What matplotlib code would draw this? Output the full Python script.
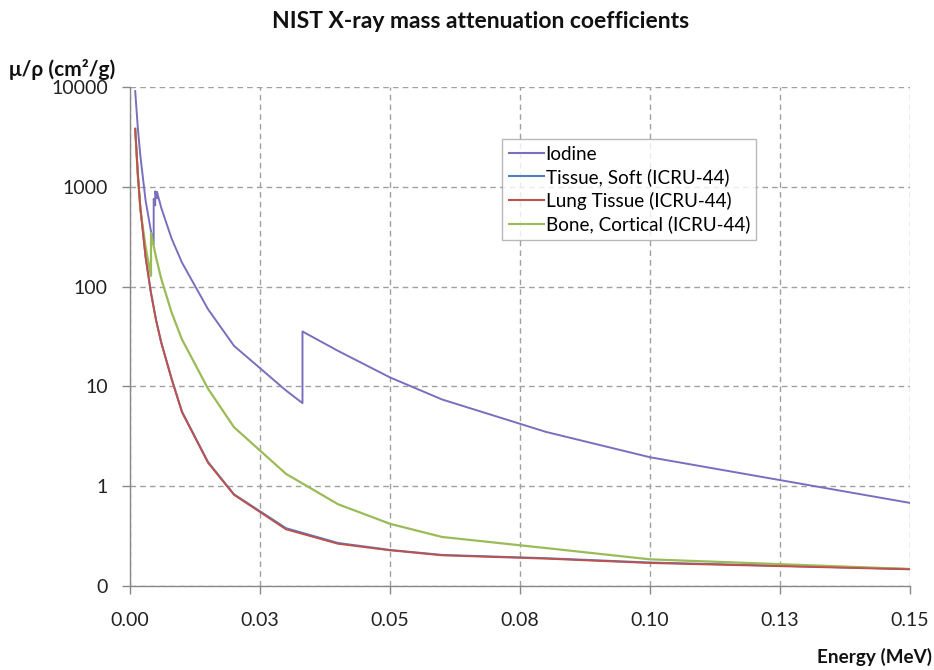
import matplotlib
matplotlib.use("Agg")
import matplotlib.pyplot as plt
from matplotlib.ticker import FixedLocator, FixedFormatter, NullLocator

plt.rcParams['font.family'] = ['Lato', 'DejaVu Sans']

# Energies (MeV) and mass attenuation coefficients (cm^2/g)
iodine_E = [0.001, 0.0015, 0.002, 0.003, 0.004, 0.004557, 0.004557, 0.004852, 0.004852,
            0.005, 0.005188, 0.005188, 0.006, 0.008, 0.01, 0.015, 0.02, 0.03, 0.03317,
            0.03317, 0.04, 0.05, 0.06, 0.08, 0.1, 0.15]
iodine_mu = [9096, 3919, 2024, 728, 367, 263, 757, 652, 900,
             838, 765, 890, 618, 303, 174, 59.4, 25.5, 9.1, 6.8,
             35.5, 22.7, 12.3, 7.4, 3.5, 1.95, 0.68]

tissue_E = [0.001, 0.0015, 0.002, 0.003, 0.004, 0.005, 0.006, 0.008, 0.01,
            0.015, 0.02, 0.03, 0.04, 0.05, 0.06, 0.08, 0.1, 0.15]
soft_mu = [3829, 1362, 612, 199, 89, 47, 27.8, 12.0, 5.6,
           1.75, 0.83, 0.38, 0.27, 0.23, 0.205, 0.19, 0.172, 0.148]
lung_mu = [3803, 1350, 607, 196, 88, 46, 27.4, 11.8, 5.5,
           1.72, 0.82, 0.37, 0.265, 0.228, 0.203, 0.188, 0.17, 0.147]

bone_E = [0.001, 0.0015, 0.002, 0.003, 0.004, 0.004038, 0.004038, 0.005, 0.006, 0.008,
          0.01, 0.015, 0.02, 0.03, 0.04, 0.05, 0.06, 0.08, 0.1, 0.15]
bone_mu = [3781, 1295, 587, 250, 130, 128, 345, 197, 120, 55,
           29.5, 9.5, 3.9, 1.33, 0.66, 0.42, 0.31, 0.24, 0.185, 0.148]

x_ticks = [0.0, 0.025, 0.05, 0.075, 0.1, 0.125, 0.15]
x_labels = ["0.00", "0.03", "0.05", "0.08", "0.10", "0.13", "0.15"]
y_ticks = [0.1, 1, 10, 100, 1000, 10000]
y_labels = ["0", "1", "10", "100", "1000", "10000"]

fig = plt.figure(figsize=(9.34, 6.7), dpi=100)
ax = fig.add_axes([130/934, 1-586/670, 780/934, 499/670])

ax.plot(iodine_E, iodine_mu, color='#7A6FBF', lw=1.4, label='Iodine', zorder=3)
ax.plot(tissue_E, soft_mu, color='#4F81BD', lw=1.4, label='Tissue, Soft (ICRU-44)', zorder=3)
ax.plot(tissue_E, lung_mu, color='#C0504D', lw=1.4, label='Lung Tissue (ICRU-44)', zorder=4)
ax.plot(bone_E, bone_mu, color='#9BBB59', lw=1.6, label='Bone, Cortical (ICRU-44)', zorder=3)

ax.set_yscale('log')
ax.set_xlim(0, 0.15)
ax.set_ylim(0.1, 10000)
ax.xaxis.set_major_locator(FixedLocator(x_ticks))
ax.xaxis.set_major_formatter(FixedFormatter(x_labels))
ax.xaxis.set_minor_locator(NullLocator())
ax.yaxis.set_major_locator(FixedLocator(y_ticks))
ax.yaxis.set_major_formatter(FixedFormatter(y_labels))
ax.yaxis.set_minor_locator(NullLocator())

ax.grid(True, which='major', color='#A0A0A0', linestyle=(0, (4, 3)), linewidth=1.0)
ax.set_axisbelow(True)
for s in ['top', 'right']:
    ax.spines[s].set_visible(False)
for s in ['left', 'bottom']:
    ax.spines[s].set_color('#888888')
    ax.spines[s].set_linewidth(1.0)
ax.tick_params(axis='both', which='major', direction='out', length=6, width=1,
               color='#888888', labelsize=14, labelcolor='#222222')
ax.tick_params(axis='y', pad=10)
ax.tick_params(axis='x', pad=13)

leg = ax.legend(loc='upper left', bbox_to_anchor=(0.477, 0.896), frameon=True,
                fancybox=False, edgecolor='#A8A8A8', fontsize=13.6, handlelength=1.85,
                handletextpad=0.1, borderpad=0.35, labelspacing=0.3, borderaxespad=0)
leg.get_frame().set_linewidth(1.0)
for line in leg.get_lines():
    line.set_linewidth(1.5)

fig.text(481/934, 1-21/670, 'NIST X-ray mass attenuation coefficients', ha='center', va='center',
         fontsize=16.5, fontweight='bold', color='#111111')
fig.text(9/934, 1-80/670, 'μ/ρ (cm²/g)', ha='left', va='bottom', fontsize=15,
         fontweight='bold', color='#111111')
fig.text(932/934, 1-657/670, 'Energy (MeV)', ha='right', va='center', fontsize=13.6,
         fontweight='bold', color='#111111')

fig.savefig('out.png', dpi=100)
